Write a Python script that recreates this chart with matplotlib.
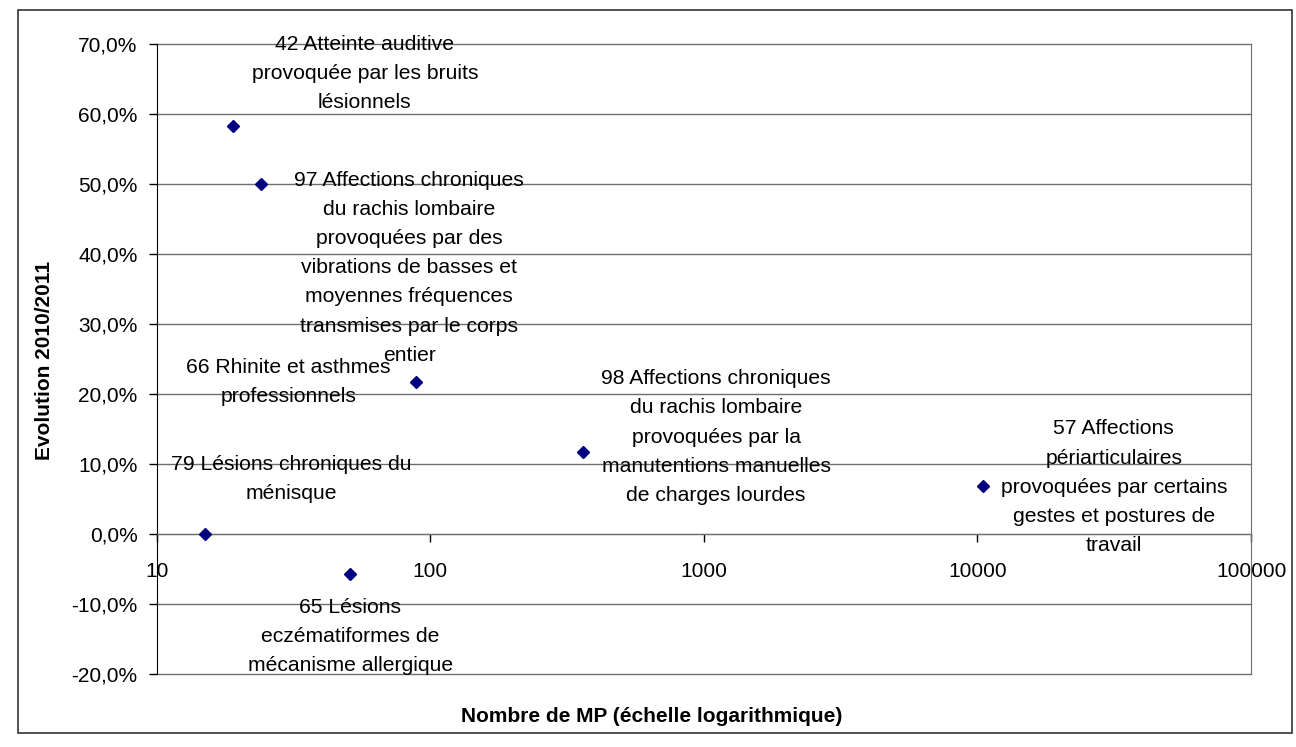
import matplotlib
matplotlib.use('Agg')
import matplotlib.pyplot as plt
import matplotlib.patches as patches
from matplotlib.ticker import FuncFormatter, NullLocator

plt.rcParams['font.family'] = ['Liberation Sans', 'DejaVu Sans']

# data
labels = [
    "42 Atteinte auditive\nprovoquée par les bruits\nlésionnels",
    "97 Affections chroniques\ndu rachis lombaire\nprovoquées par des\nvibrations de basses et\nmoyennes fréquences\ntransmises par le corps\nentier",
    "66 Rhinite et asthmes\nprofessionnels",
    "79 Lésions chroniques du\nménisque",
    "65 Lésions\neczématiformes de\nmécanisme allergique",
    "98 Affections chroniques\ndu rachis lombaire\nprovoquées par la\nmanutentions manuelles\nde charges lourdes",
    "57 Affections\npériarticulaires\nprovoquées par certains\ngestes et postures de\ntravail",
]
nb_mp = [19, 24, 89, 15, 51, 361, 10500]
evolution = [0.583, 0.500, 0.217, 0.0, -0.057, 0.117, 0.069]

x_ticks = [10, 100, 1000, 10000, 100000]
x_ticklabels = ['10', '100', '1000', '10000', '100000']
y_ticks = [-0.2, -0.1, 0.0, 0.1, 0.2, 0.3, 0.4, 0.5, 0.6, 0.7]

# label offsets (points) from each marker
label_offsets = [(95, 38), (107, -60), (-92, 0), (62, 40), (0, -45), (96, 11), (94, -1)]

W, H = 1296, 747
fig = plt.figure(figsize=(W / 100, H / 100), dpi=100)
ax = fig.add_axes([156.7 / W, (H - 674.3) / H, (1251.1 - 156.7) / W, (674.3 - 44.3) / H])

grid_col = '#6e6e6e'
ax.set_xscale('log')
ax.set_xlim(10, 100000)
ax.set_ylim(-0.2, 0.7)
ax.set_xticks(x_ticks)
ax.set_xticklabels(x_ticklabels)
ax.xaxis.set_minor_locator(NullLocator())
ax.set_yticks(y_ticks)
ax.yaxis.set_major_formatter(FuncFormatter(lambda v, p: f"{round(v * 100, 1) + 0.0:.1f}%".replace('.', ',')))

ax.yaxis.grid(True, color=grid_col, lw=1.0)
ax.set_axisbelow(True)
for gl in ax.get_ygridlines():
    gl.set_clip_on(False)

ax.spines['top'].set_visible(False)
ax.spines['right'].set_color(grid_col)
ax.spines['left'].set_color('black')
ax.spines['bottom'].set_position(('data', 0))
ax.spines['bottom'].set_color(grid_col)

ax.tick_params(axis='y', direction='out', length=8 * 0.72, width=1, pad=8, labelsize=15, colors='black')
ax.tick_params(axis='x', direction='out', length=8 * 0.72, width=1, pad=14.5, labelsize=15, colors='black')

ax.plot(nb_mp, evolution, 'D', color='#000080', ms=6.5, ls='none', clip_on=False, zorder=3)

for lab, x, y, off in zip(labels, nb_mp, evolution, label_offsets):
    ax.annotate(lab, (x, y), xytext=off, textcoords='offset points',
                ha='center', va='center', multialignment='center',
                fontsize=15.2, linespacing=1.68, color='black', zorder=4)

fig.text(45 / W, 1 - 360 / H, 'Evolution 2010/2011', rotation=90, fontsize=15,
         fontweight='bold', ha='center', va='center')
fig.text(652 / W, 1 - 716 / H, 'Nombre de MP (échelle logarithmique)', fontsize=15,
         fontweight='bold', ha='center', va='center')

fig.patches.append(patches.Rectangle((18 / W, (H - 733) / H), (1292 - 18) / W, (733 - 10) / H,
                                     transform=fig.transFigure, fill=False,
                                     ec='#333333', lw=1.2))

fig.savefig('out.png', dpi=100)
